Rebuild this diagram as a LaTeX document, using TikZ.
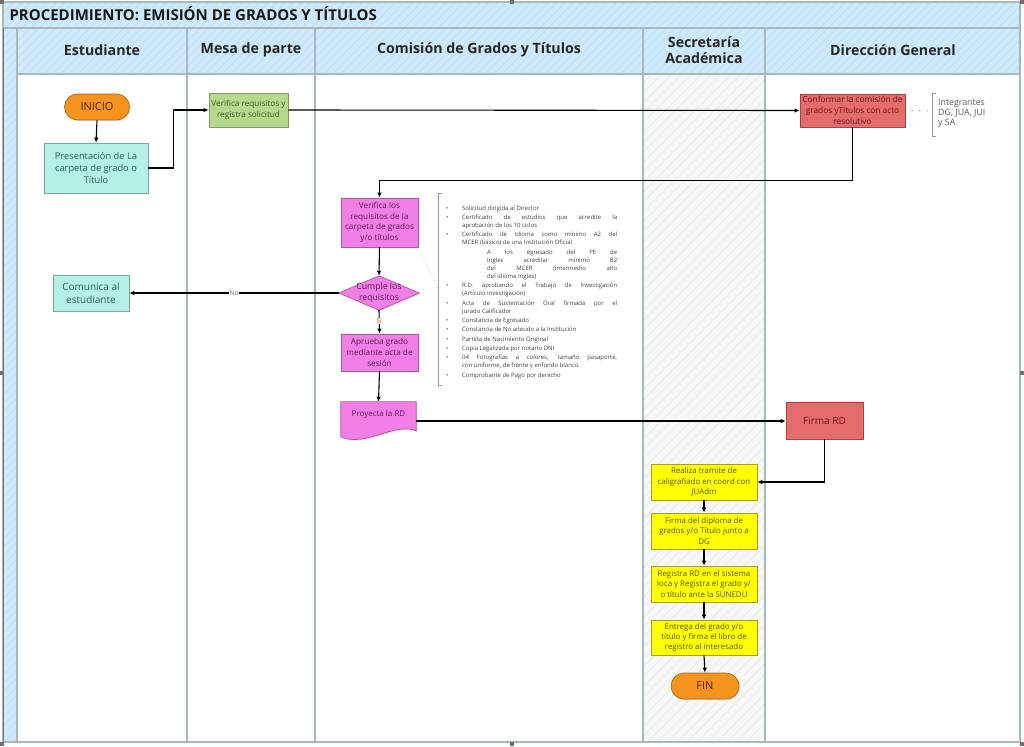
\documentclass[tikz,border=0pt]{standalone}
\usepackage{fontspec}
\setmainfont{Open Sans}
\usetikzlibrary{arrows.meta,patterns.meta,shadows,calc}
\definecolor{bandblue}{HTML}{CDE9FB}
\definecolor{hatchblue}{HTML}{BADDF2}
\definecolor{lanegray}{HTML}{F7F7F7}
\definecolor{hatchgray}{HTML}{E8E8E8}
\definecolor{laneline}{HTML}{A6BAB5}
\definecolor{orangeF}{HTML}{F7941E}
\definecolor{orangeD}{HTML}{B8650F}
\definecolor{orangeT}{HTML}{4A2600}
\definecolor{aquaF}{HTML}{B5F0E6}
\definecolor{aquaD}{HTML}{7DA6A1}
\definecolor{aquaT}{HTML}{2F5E5A}
\definecolor{greenF}{HTML}{B6DA8D}
\definecolor{greenD}{HTML}{7E9F5B}
\definecolor{greenT}{HTML}{3F5A20}
\definecolor{redF}{HTML}{E46C6C}
\definecolor{redD}{HTML}{A94343}
\definecolor{redT}{HTML}{6E1515}
\definecolor{magF}{HTML}{F27FE5}
\definecolor{magD}{HTML}{A85AA0}
\definecolor{magT}{HTML}{5E1B5A}
\definecolor{yelF}{HTML}{FFFF00}
\definecolor{yelD}{HTML}{A3A31A}
\definecolor{yelT}{HTML}{55550A}
\definecolor{listtext}{HTML}{404040}
\definecolor{handle}{HTML}{707070}
\newcommand{\litem}[1]{\par\noindent\hangindent=16pt\hangafter=1\makebox[16pt][l]{\textbullet}#1\par}
\tikzset{
  box/.style={draw, line width=0.7pt, align=center, inner sep=1pt,
    drop shadow={shadow xshift=1.2pt,shadow yshift=-1.2pt,opacity=0.22}},
  aquabox/.style={box, fill=aquaF, draw=aquaD, text=aquaT},
  greenbox/.style={box, fill=greenF, draw=greenD, text=greenT},
  redbox/.style={box, fill=redF, draw=redD, text=redT},
  magbox/.style={box, fill=magF, draw=magD, text=magT},
  yelbox/.style={box, fill=yelF, draw=yelD, text=yelT},
  termbox/.style={box, fill=orangeF, draw=orangeD, text=orangeT, rounded corners=13pt,
    font=\fontsize{11}{13}\selectfont},
  conn/.style={draw=black, line width=1.1pt, -{Latex[length=5pt,width=4.5pt]}},
  lane/.style={draw=laneline, line width=1.2pt},
  hdr/.style={font=\bfseries\fontsize{14.2}{16.5}\selectfont, text=black!85, align=center},
  fs/.style={font=\fontsize{#1}{\dimexpr #1pt*13/10\relax}\selectfont},
  annot/.style={draw=gray!80, line width=0.6pt},
}
\begin{document}
\begin{tikzpicture}[x=1pt,y=-1pt]
\useasboundingbox (0,0) rectangle (1024,746);
% ---- bands
\fill[bandblue] (3,2) rectangle (1020,28);
\fill[pattern={Lines[angle=45,distance=6pt,line width=0.5pt]}, pattern color=hatchblue] (3,2) rectangle (1020,28);
\fill[bandblue] (17,28) rectangle (1020,74);
\fill[pattern={Lines[angle=45,distance=6pt,line width=0.5pt]}, pattern color=hatchblue] (17,28) rectangle (1020,74);
\fill[bandblue] (3,28) rectangle (17,742);
\fill[pattern={Lines[angle=45,distance=6pt,line width=0.5pt]}, pattern color=hatchblue] (3,28) rectangle (17,742);
\fill[lanegray] (643,74) rectangle (765,742);
\fill[pattern={Lines[angle=45,distance=7pt,line width=0.5pt]}, pattern color=hatchgray] (643,74) rectangle (765,742);
% ---- lines
\draw[lane] (3,2) rectangle (1020,742);
\draw[lane] (3,28) -- (1020,28);
\draw[lane] (17,74) -- (1020,74);
\foreach \x in {17,187,315,643,765} \draw[lane] (\x,28) -- (\x,742);
\draw[draw=gray!90!black, line width=1pt] (3.5,28) -- (3.5,742);
% ---- handles
\foreach \p in {(0,0),(510,0),(1020,0),(0,371),(1020,371),(0,742),(510,742),(1020,742)}
  \fill[handle] \p rectangle ++(4,4);
% ---- titles
\node[anchor=west, font=\bfseries\fontsize{15}{18}\selectfont, text=black!90] (title) at (6,14) {PROCEDIMIENTO: EMISIÓN DE GRADOS Y TÍTULOS};
\node[hdr] (h1) at (102,50) {Estudiante};
\node[hdr] (h2) at (251,50) {Mesa de parte};
\node[hdr] (h3) at (479,50) {Comisión de Grados y Títulos};
\node[hdr] (h4) at (704,50) {Secretaría\\Académica};
\node[hdr] (h5) at (893,50) {Dirección General};
% ---- nodes
\node[termbox, minimum width=65, minimum height=26] (inicio) at (97,107) {INICIO};
\node[aquabox, fs=9.3, minimum width=104, minimum height=50] (pres) at (96,168) {Presentación de La\\carpeta de grado o\\Título};
\node[aquabox, fs=10, minimum width=76, minimum height=36] (comunica) at (91,293) {Comunica al\\estudiante};
\node[greenbox, fs=8.2, minimum width=79, minimum height=34] (verreq) at (248.5,110) {Verifica requisitos y\\registra solicitud};
\node[redbox, fs=8.3, minimum width=105, minimum height=33] (conform) at (852.5,110.5) {Conformar la comisión de\\grados yTítulos con acto\\resolutivo};
\node[magbox, fs=8.2, minimum width=77, minimum height=49] (verlos) at (379.5,222.5) {Verifica los\\requisitos de la\\carpeta de grados\\y/o títulos};
\node[minimum width=80, minimum height=34, inner sep=0] (dia) at (379,293) {};
\path[magbox] (dia.north) -- (dia.east) -- (dia.south) -- (dia.west) -- cycle;
\node[fs=8.7, text=magT, align=center] (dialbl) at (dia.center) {Cumple los\\requisitos};
\node[magbox, fs=8.2, minimum width=77, minimum height=37] (aprueba) at (379.5,352.5) {Aprueba grado\\mediante acta de\\sesión};
\node[minimum width=75, minimum height=38, inner sep=0] (proy) at (378.5,421) {};
\path[magbox] (proy.north west) -- (proy.north east) -- ($(proy.north east)+(0,29)$)
   .. controls ($(proy.north east)+(-22,20)$) and ($(proy.north west)+(25,46)$) .. ($(proy.north west)+(0,35)$) -- cycle;
\node[fs=8, text=magT] (proylbl) at (378.5,414) {Proyecta la RD};
\node[redbox, fs=10, minimum width=77, minimum height=37] (firma) at (824.5,420.5) {Firma RD};
\node[yelbox, fs=7.9, minimum width=106, minimum height=36] (realiza) at (704,482) {Realiza tramite de\\caligrafiado en coord con\\JUAdm};
\node[yelbox, fs=7.9, minimum width=106, minimum height=36] (diploma) at (704,531) {Firma del diploma de\\grados y/o Título junto a\\DG};
\node[yelbox, fs=7.9, minimum width=106, minimum height=36] (registra) at (704,584) {Registra RD en el sistema\\loca y Registra el grado y/\\o título ante la SUNEDU};
\node[yelbox, fs=7.9, minimum width=106, minimum height=35] (entrega) at (704,637.5) {Entrega del grado y/o\\título y firma el libro de\\registro al interesado};
\node[termbox, minimum width=68, minimum height=26] (fin) at (705,686) {FIN};
% ---- annotations
\coordinate (br1) at (932,111);
\draw[annot] (936,93) -- (932.5,93) -- (932.5,136) -- (936,136);
\draw[gray!80, line width=1pt, dash pattern=on 1.2pt off 6.5pt] ($(conform.east)+(6,0)$) -- (br1);
\node[anchor=north west, inner sep=0, text=gray!70!black, align=left, font=\fontsize{8.8}{10.2}\selectfont] (integ) at (938,99) {Integrantes\\DG, JUA, JUI\\y SA};
\coordinate (br2) at (438,289);
\draw[annot] (442,193) -- (438.5,193) -- (438.5,385) -- (442,385);
\draw[gray!60, line width=0.6pt, dotted] (verlos.south east) -- (br2);
\node[anchor=north west, inner sep=0, text width=171pt, align=justify, text=listtext,
      font=\fontsize{6}{8.1}\selectfont] (lista) at (446,200.5) {%
\setlength{\parskip}{1.2pt}%
\litem{Solicitud dirigida al Director}
\litem{Certificado de estudios que acredite la\linebreak aprobación de los 10 ciclos}
\litem{Certificado de Idioma como mínimo A2 del\linebreak MCER (básico) de una Institución Oficial.}
{\leftskip=41pt\noindent A los egresado del PE de\linebreak Ingles acreditar mínimo B2\linebreak del MCER (intermedio alto\linebreak del idioma Ingles)\par}
\litem{R.D. aprobando el Trabajo de Investigación\linebreak (Artículo Investigación)}
\litem{Acta de Sustentación Oral firmada por el\linebreak Jurado Calificador}
\litem{Constancia de Egresado}
\litem{Constancia de No adeudo a la Institución}
\litem{Partida de Nacimiento Original}
\litem{Copia Legalizada por notario DNI}
\litem{04 Fotografías a colores, tamaño pasaporte,\linebreak con uniforme, de frente y enfondo blanco.}
\litem{Comprobante de Pago por derecho}};
% ---- connectors
\draw[conn] (inicio.south) -- (pres.north);
\draw[conn] (pres.east) -- ++(25,0) |- (verreq.west);
\draw[conn] (verreq.east) -- (conform.west);
\draw[conn] (conform.south) -- ++(0,53) -| (verlos.north);
\draw[conn] (verlos.south) -- (dia.north);
\draw[conn] (dia.west) -- node[pos=0.5, fill=white, inner sep=0.5pt, text=gray!80!black, font=\fontsize{6.5}{7}\selectfont] {No} (comunica.east);
\draw[conn] (dia.south) -- node[pos=0.45, fill=white, inner sep=0.5pt, text=orange!70!black, font=\fontsize{6.5}{7}\selectfont] {Sí} (aprueba.north);
\draw[conn] (aprueba.south) -- (proy.north);
\draw[conn] (proy.east) -- (proy.east -| firma.west);
\draw[conn] (firma.south) |- (realiza.east);
\draw[conn] (realiza.south) -- (diploma.north);
\draw[conn] (diploma.south) -- (registra.north);
\draw[conn] (registra.south) -- (entrega.north);
\draw[conn] (entrega.south) -- (fin.north);
\end{tikzpicture}
\end{document}
